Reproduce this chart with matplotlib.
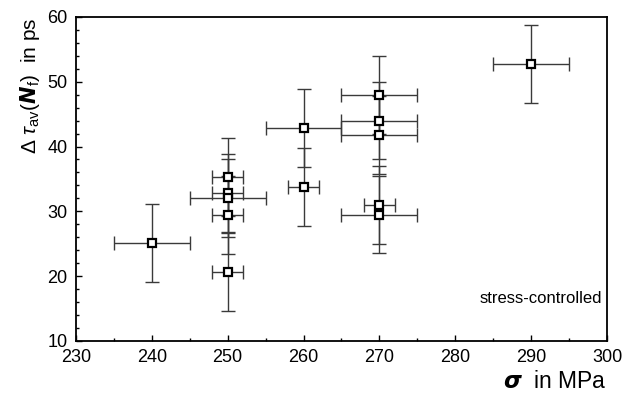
import matplotlib

matplotlib.use("Agg")
import matplotlib.pyplot as plt
from matplotlib.ticker import MultipleLocator

plt.rcParams["font.family"] = ["Liberation Sans", "DejaVu Sans"]
plt.rcParams["mathtext.fontset"] = "custom"
plt.rcParams["mathtext.rm"] = "Liberation Sans"
plt.rcParams["mathtext.it"] = "Liberation Sans:italic"
plt.rcParams["mathtext.bf"] = "Liberation Sans:bold"

# stress amplitude (MPa) and mean lifetime change (ps)
sigma = [240, 250, 250, 250, 250, 250, 260, 260, 270, 270, 270, 270, 270, 290]
dtau = [25.1, 35.3, 32.8, 32.0, 29.4, 20.6, 42.9, 33.8, 48.0, 44.0, 41.8, 31.0, 29.5, 52.7]
sigma_err = [5, 2, 2, 5, 2, 2, 5, 2, 5, 5, 5, 2, 5, 5]
dtau_err = [6.0, 6.0, 6.0, 6.0, 6.0, 6.0, 6.0, 6.0, 6.0, 6.0, 6.0, 6.0, 6.0, 6.0]

fig = plt.figure(figsize=(6.22, 4.03), dpi=100, facecolor="white")
ax = fig.add_axes([0.122, 0.154, 0.854, 0.804])

ax.errorbar(sigma, dtau, xerr=sigma_err, yerr=dtau_err, fmt="none",
            ecolor="#3a3a3a", elinewidth=1.0, capsize=5, capthick=1.0, zorder=2)
ax.plot(sigma, dtau, "s", ms=6.3, mfc="white", mec="black", mew=1.6, zorder=3, ls="none")

ax.set_xlim(230, 300)
ax.set_ylim(10, 60)
ax.xaxis.set_major_locator(MultipleLocator(10))
ax.xaxis.set_minor_locator(MultipleLocator(5))
ax.yaxis.set_major_locator(MultipleLocator(10))
ax.yaxis.set_minor_locator(MultipleLocator(2))
ax.tick_params(which="both", direction="in", top=False, right=False, labelsize=13, width=1.0)
ax.tick_params(which="major", length=4, pad=6)
ax.tick_params(which="minor", length=2.5)
for side in ["left", "bottom", "top", "right"]:
    ax.spines[side].set_linewidth(1.3)

ax.set_xlabel(r"$\boldsymbol{\sigma}$  in MPa", fontsize=16.5, loc="right", labelpad=3)
ax.set_ylabel(r"$\Delta\ \tau_{\rm av}(\boldsymbol{N}_{\rm f})$  in ps", fontsize=15, loc="top", labelpad=4)

ax.text(0.99, 0.13, "stress-controlled", transform=ax.transAxes, ha="right", va="center", fontsize=12)

fig.savefig("out.png", dpi=100, facecolor="white")
